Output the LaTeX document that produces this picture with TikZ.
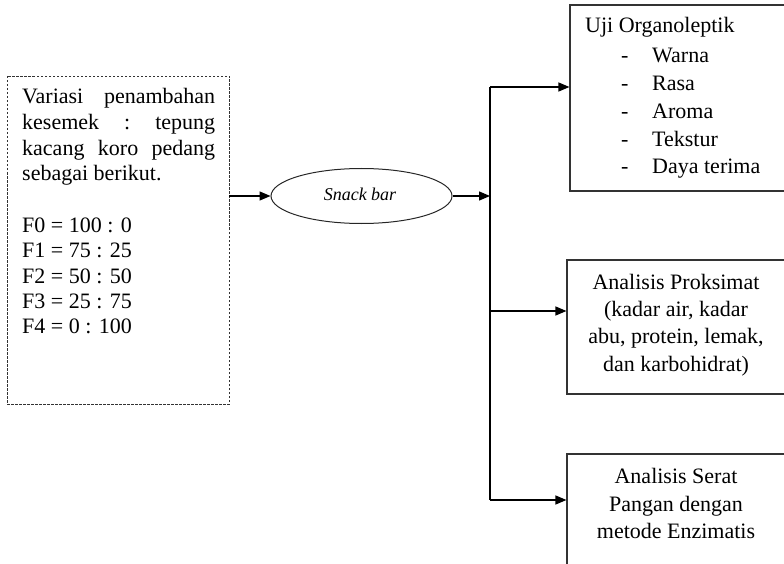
\documentclass[tikz,border=0pt]{standalone}
\usepackage{fontspec}
\setmainfont{Liberation Serif}
\usetikzlibrary{arrows.meta,shapes.geometric}
\begin{document}
\begin{tikzpicture}[x=1pt,y=-1pt,
  txt/.style={inner sep=0pt,font=\fontsize{22}{25}\selectfont},
  ln/.style={line width=1.3pt,draw=black},
  arr/.style={ln,-{Triangle[length=11pt,width=9pt]}},
  box/.style={draw=black!80,line width=1.1pt,rectangle,inner sep=0pt}]
\useasboundingbox (0,0) rectangle (784,564);
\clip (0,0) rectangle (784,564);
% left dashed box
\node[draw=black!80,line width=0.9pt,dash pattern=on 2.5pt off 1.5pt,inner sep=0pt,
  minimum width=222pt,minimum height=328pt] (var) at (118,240) {};
\node[txt,anchor=base west] (v1) at (22,104) {\hbox to 193pt{Variasi\hfill penambahan}};
\node[txt,anchor=base west] (v2) at (22,130) {\hbox to 193pt{kesemek\hfill:\hfill tepung}};
\node[txt,anchor=base west] (v3) at (22,156) {\hbox to 193pt{kacang\hfill koro\hfill pedang}};
\node[txt,anchor=base west] (v4) at (22,181) {sebagai berikut.};
\node[txt,anchor=base west] (f0) at (22,232) {F0 = 100 : 0};
\node[txt,anchor=base west] (f1) at (22,257) {F1 = 75 : 25};
\node[txt,anchor=base west] (f2) at (22,283) {F2 = 50 : 50};
\node[txt,anchor=base west] (f3) at (22,308) {F3 = 25 : 75};
\node[txt,anchor=base west] (f4) at (22,333) {F4 = 0 : 100};
% ellipse
\node[draw=black!85,line width=1pt,ellipse,minimum width=181pt,minimum height=55pt,inner sep=0pt] (snack) at (361.5,196) {};
\node[inner sep=0pt,font=\fontsize{18}{20}\selectfont\itshape] (snacktxt) at (360,194) {Snack bar};
% right boxes
\node[box,minimum width=230pt,minimum height=186pt] (org) at (685,98) {};
\node[box,minimum width=233pt,minimum height=134pt] (prox) at (683.5,327) {};
\node[box,minimum width=233pt,minimum height=146pt] (serat) at (683.5,527) {};
% box 1 text
\node[txt,anchor=base west] (o0) at (585,33) {Uji Organoleptik};
\foreach \t/\y [count=\i] in {Warna/63,Rasa/91,Aroma/118.5,Tekstur/146.5,Daya terima/174}{
  \node[txt,anchor=base west] (od\i) at (621,\y) {-};
  \node[txt,anchor=base west] (o\i) at (652,\y) {\t};
}
% box 2 text
\node[txt,anchor=base] (p1) at (676,289) {Analisis Proksimat};
\node[txt,anchor=base] (p2) at (676,316) {(kadar air, kadar};
\node[txt,anchor=base] (p3) at (676,343.5) {abu, protein, lemak,};
\node[txt,anchor=base] (p4) at (676,371) {dan karbohidrat)};
% box 3 text
\node[txt,anchor=base] (s1) at (676,483) {Analisis Serat};
\node[txt,anchor=base] (s2) at (676,511) {Pangan dengan};
\node[txt,anchor=base] (s3) at (676,538) {metode Enzimatis};
% connectors
\coordinate (j1) at (490,87);
\coordinate (j2) at (490,311);
\coordinate (j3) at (490,500);
\coordinate (hub) at (snack.east -| j1);
\draw[arr] (var.east |- snack.west) -- (snack.west);
\draw[arr] (snack.east) -- (hub);
\draw[ln] (j1) -- (j3);
\draw[arr] (j1) -- (j1 -| org.west);
\draw[arr] (j2) -- (j2 -| prox.west);
\draw[arr] (j3) -- (j3 -| serat.west);
\end{tikzpicture}
\end{document}
